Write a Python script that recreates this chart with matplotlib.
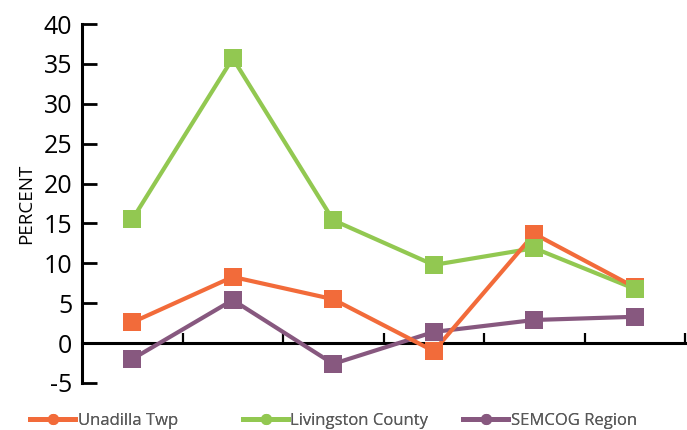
import matplotlib
matplotlib.use("Agg")
from matplotlib import pyplot as plt
from matplotlib.lines import Line2D

plt.rcParams['font.family'] = ['Open Sans', 'DejaVu Sans']

# Values
periods = [0, 1, 2, 3, 4, 5]
unadilla = [2.6, 8.3, 5.5, -1.0, 13.7, 7.0]
livingston = [15.5, 35.7, 15.4, 9.8, 11.9, 6.8]
semcog = [-2.0, 5.4, -2.6, 1.4, 2.9, 3.3]
names = ["Unadilla Twp", "Livingston County", "SEMCOG Region"]
colors = ["#F26B3A", "#92C851", "#87587F"]
yticks = [-5, 0, 5, 10, 15, 20, 25, 30, 35, 40]

fig = plt.figure(figsize=(6.87, 4.3), dpi=100)
ax = fig.add_axes([82 / 687, 1 - 383 / 430, 603 / 687, 359 / 430])

series = [unadilla, livingston, semcog]
# lines first (last series at the bottom), then markers on top in series order
for i in range(len(series) - 1, -1, -1):
    ax.plot(periods, series[i], color=colors[i], lw=3, zorder=2,
            solid_joinstyle="miter")
for i in range(len(series)):
    ax.plot(periods, series[i], color=colors[i], ls="none", marker="s",
            markersize=12.3, markeredgewidth=0, zorder=3)

ax.set_xlim(-0.5, 5.5)
ax.set_ylim(-5, 40)
ax.set_yticks(yticks)
ax.set_yticklabels([str(v) for v in yticks], fontsize=18, color="black")
ax.tick_params(axis="y", direction="in", length=11, width=2, pad=7, color="black")

# category boundary ticks on the zero line
ax.set_xticks([p + 0.5 for p in periods])
ax.set_xticklabels([])
ax.tick_params(axis="x", direction="in", length=7, width=1.6, color="black")

for s in ["top", "right"]:
    ax.spines[s].set_visible(False)
ax.spines["left"].set_linewidth(2.2)
ax.spines["bottom"].set_position(("data", 0))
ax.spines["bottom"].set_linewidth(2.2)
ax.spines["left"].set_zorder(0.5)
ax.spines["bottom"].set_zorder(0.5)

ax.set_ylabel("PERCENT", fontsize=13.5)
ax.yaxis.set_label_coords(-0.077, 0.5)

# legend entries spaced as in reference
legend_x = [30 / 687, 243 / 687, 463 / 687]
for name, col, lx in zip(names, colors, legend_x):
    h = Line2D([], [], color=col, lw=3.5, marker="o", markersize=8, markeredgewidth=0)
    leg = fig.legend(handles=[h], labels=[name], loc="center left",
                     bbox_to_anchor=(lx, 1 - 421 / 430), frameon=False,
                     fontsize=12, handlelength=2.7, handletextpad=0.15,
                     borderpad=0, borderaxespad=0, labelcolor="#595959")
    fig.add_artist(leg)

fig.savefig("out.png", dpi=100)
